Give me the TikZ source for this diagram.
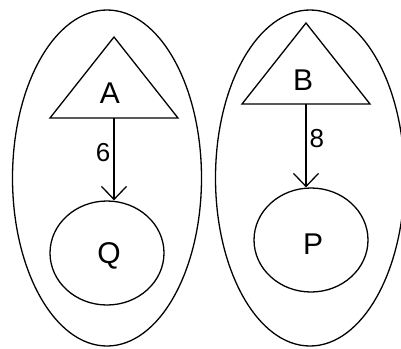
\documentclass[tikz,border=0pt]{standalone}
\usepackage{fontspec}
\setmainfont{Liberation Sans}
\usetikzlibrary{shapes.geometric,arrows.meta}
\begin{document}
\begin{tikzpicture}[x=1pt,y=-1pt,
  line width=1.3pt,
  group/.style={draw,ellipse,minimum width=189pt,minimum height=336pt,inner sep=0pt},
  leaf/.style={draw,ellipse,minimum width=114pt,minimum height=104pt,inner sep=0pt},
  lbl/.style={inner sep=0pt,font=\fontsize{30}{34}\selectfont},
  wlbl/.style={inner sep=0pt,font=\fontsize{26}{30}\selectfont},
  edge/.style={-{Straight Barb[length=13pt,width=25pt,line width=1.3pt]}}]
\useasboundingbox (0,0) rectangle (401,348);
\clip (0,0) rectangle (401,348);
\fill[white] (0,0) rectangle (401,348);

% outer groups
\node[group] (g1) at (107,178) {};
\node[group] (g2) at (310,178) {};

% left tree: triangle A over circle Q
\draw (114,37) -- (178,118) -- (50,118) -- cycle;
\coordinate (baseA) at (114,118);
\node[lbl] (A) at (110,93) {A};
\node[leaf] (Q) at (107,253) {};
\node[lbl] (Qt) at (109,256) {Q};
\draw[edge] (baseA) -- (Q.north -| baseA) node[wlbl,pos=0.42,left=3pt] (w6) {6};

% right tree: triangle B over circle P
\draw (306,23) -- (370,104) -- (242,104) -- cycle;
\coordinate (baseB) at (306,104);
\node[lbl] (B) at (303,80) {B};
\node[leaf] (P) at (311,240) {};
\node[lbl] (Pt) at (313,244) {P};
\draw[edge] (baseB) -- (P.north -| baseB) node[wlbl,pos=0.41,right=3pt] (w8) {8};
\end{tikzpicture}
\end{document}
